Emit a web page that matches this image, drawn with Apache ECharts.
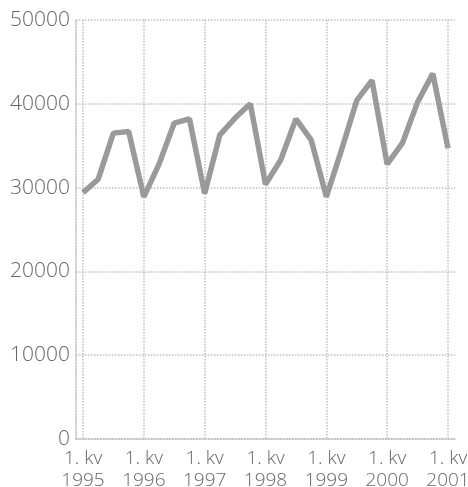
<!DOCTYPE html>
<html>
<head>
<meta charset="utf-8">
<script src="https://cdn.jsdelivr.net/npm/echarts@6/dist/echarts.min.js"></script>
<style>html,body{margin:0;padding:0;background:#fff}#c{width:468px;height:487px}</style>
</head>
<body>
<div id="c"></div>
<script>
var quarters = ['1. kv 1995','2. kv 1995','3. kv 1995','4. kv 1995',
  '1. kv 1996','2. kv 1996','3. kv 1996','4. kv 1996',
  '1. kv 1997','2. kv 1997','3. kv 1997','4. kv 1997',
  '1. kv 1998','2. kv 1998','3. kv 1998','4. kv 1998',
  '1. kv 1999','2. kv 1999','3. kv 1999','4. kv 1999',
  '1. kv 2000','2. kv 2000','3. kv 2000','4. kv 2000',
  '1. kv 2001'];
var values = [29400, 31000, 36500, 36700, 28900, 32800, 37700, 38200,
  29300, 36300, 38300, 40000, 30400, 33300, 38200, 35700,
  28900, 34500, 40400, 42800, 32800, 35300, 40200, 43600, 34700];
var tickIndices = [0, 4, 8, 12, 16, 20, 24];
var tickLabels = ['1. kv\n1995','1. kv\n1996','1. kv\n1997','1. kv\n1998','1. kv\n1999','1. kv\n2000','1. kv\n2001'];
var yTicks = [0, 10000, 20000, 30000, 40000, 50000];

var gridLine = {color: '#c0c0c0', width: 1.5, type: [1.5, 1.5]};
var chart = echarts.init(document.getElementById('c'), null, {renderer: 'canvas'});
chart.setOption({
  animation: false,
  backgroundColor: '#fff',
  grid: {left: 76, right: 13, top: 20, bottom: 48, containLabel: false, outerBoundsMode: 'none'},
  xAxis: {
    type: 'value',
    min: -0.46,
    max: quarters.length - 1 + 0.46,
    axisLine: {show: true, onZero: false, lineStyle: gridLine},
    axisTick: {show: false, customValues: tickIndices},
    splitLine: {show: true, lineStyle: gridLine},
    axisLabel: {
      customValues: tickIndices,
      hideOverlap: false,
      align: 'center',
      alignMinLabel: 'center',
      alignMaxLabel: 'center',
      formatter: function (v) { return tickLabels[tickIndices.indexOf(Math.round(v))] || ''; },
      fontFamily: 'Open Sans', fontWeight: 300, fontSize: 19, lineHeight: 22, color: '#666', margin: 9
    }
  },
  yAxis: {
    type: 'value',
    min: yTicks[0],
    max: yTicks[yTicks.length - 1],
    interval: yTicks[1] - yTicks[0],
    axisLine: {show: true, onZero: false, lineStyle: gridLine},
    axisTick: {show: false},
    splitLine: {show: true, lineStyle: gridLine},
    axisLabel: {
      formatter: function (v) { return String(v); },
      fontFamily: 'Open Sans', fontWeight: 300, fontSize: 21, color: '#666', margin: 6
    }
  },
  series: [{
    type: 'line',
    name: quarters[0],
    data: values.map(function (v, i) { return [i, v]; }),
    symbol: 'none',
    lineStyle: {color: '#9a9a9a', width: 5.5},
    z: 5
  }]
});
</script>
</body>
</html>
